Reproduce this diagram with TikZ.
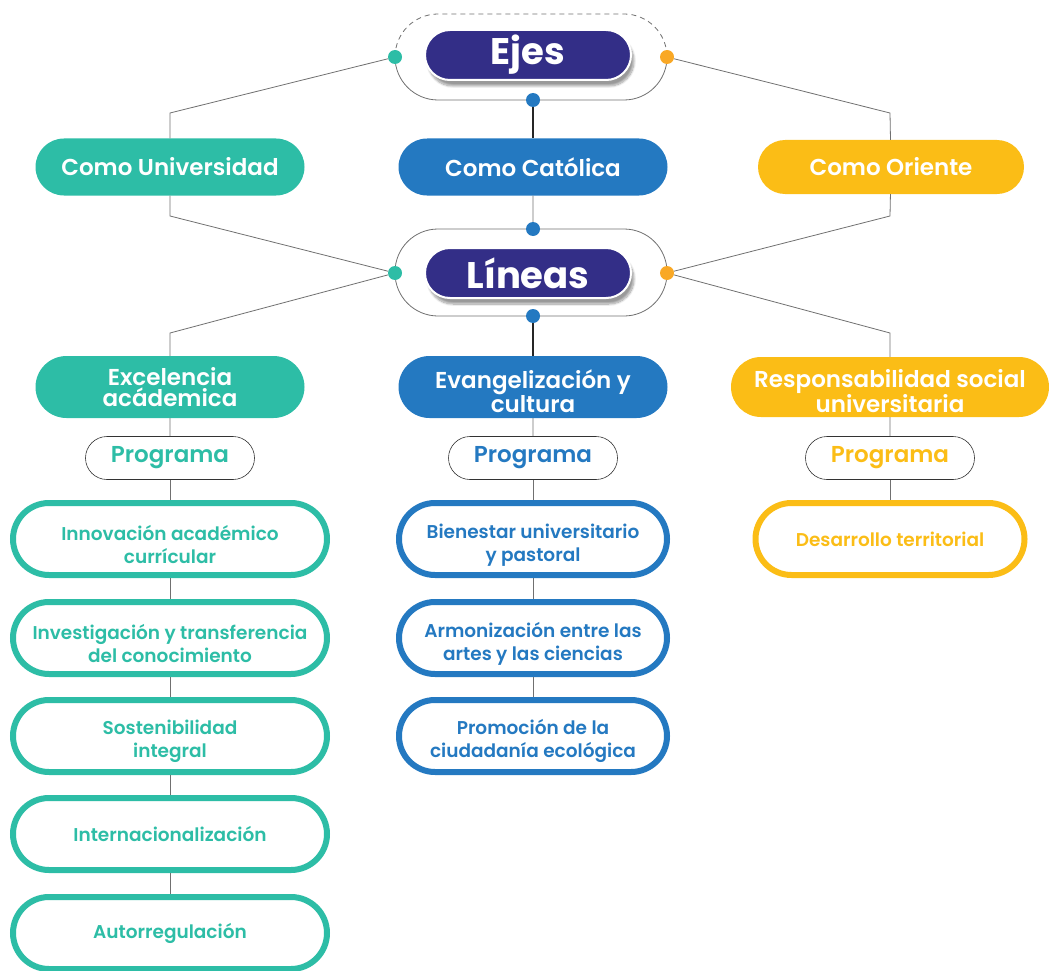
\documentclass[tikz,border=0pt]{standalone}
\usepackage{fontspec}
\setmainfont{Poppins}[BoldFont={Poppins SemiBold}]
\newfontfamily\heavyfont{Poppins Bold}
\usetikzlibrary{shapes.misc,shadows.blur}
\definecolor{cteal}{HTML}{2DBDA6}
\definecolor{cblue}{HTML}{2479C1}
\definecolor{cyell}{HTML}{FBBD16}
\definecolor{corng}{HTML}{F9A825}
\definecolor{cnavy}{HTML}{332E87}
\definecolor{cline}{HTML}{707070}
\newcommand{\dn}{\rule{0pt}{26pt}}
\newcommand{\dnl}{\rule{0pt}{27pt}}
\begin{document}
\begin{tikzpicture}[x=1pt,y=-1pt,
  title/.style={rounded rectangle, fill=cnavy, draw=white, line width=2pt, text=white,
    minimum width=206pt, minimum height=50pt, inner sep=0pt,
    font=\heavyfont\fontsize{37}{37}\selectfont,
    blur shadow={shadow xshift=3pt, shadow yshift=-6pt, shadow blur steps=10, shadow opacity=40}},
  pill/.style={rounded rectangle, fill=#1, text=white, align=center, inner sep=0pt,
    minimum width=269pt, minimum height=57pt, font=\bfseries\fontsize{23}{21}\selectfont},
  prog/.style={rounded rectangle, draw=black!80, line width=0.6pt, fill=white, text=#1,
    minimum width=169pt, minimum height=43pt, inner sep=0pt, font=\bfseries\fontsize{23}{23}\selectfont},
  pbox/.style={rounded rectangle, draw=#1, line width=6pt, fill=white, text=#1, align=center,
    minimum height=72pt, inner sep=0pt, font=\bfseries\fontsize{18.5}{23}\selectfont},
  jdot/.style={circle, fill=#1, minimum size=14pt, inner sep=0pt},
  conn/.style={draw=cline, line width=0.8pt}]
\useasboundingbox (0,0) rectangle (1049,971);
% containers
\draw[cline, line width=0.8pt, dash pattern=on 5pt off 4pt, rounded corners=43pt] (395,57) -- (395,14) -- (667,14) -- (667,57);
\draw[cline, line width=0.8pt, rounded corners=43pt] (395,57) -- (395,100) -- (667,100) -- (667,57);
\draw[cline, line width=0.8pt, rounded corners=43pt] (395,229) rectangle (667,316);
% titles
\node[title] (ejes) at (528,55){Ejes};
\node[title] (lineas) at (528,273){Líneas};
% ejes
\node[pill=cteal] (eje1) at (170,167){Como Universidad};
\node[pill=cblue] (eje2) at (533,167){Como Católica};
\node[pill=cyell, minimum width=266pt, minimum height=54pt] (eje3) at (891,167){Como Oriente};
% lineas
\node[pill=cteal, minimum height=62pt] (lin1) at (170,387){Excelencia\\acádemica};
\node[pill=cblue, minimum height=62pt] (lin2) at (533,387){\dnl Evangelización y\\cultura};
\node[pill=cyell, minimum width=318pt, minimum height=60pt] (lin3) at (890,387){\dnl Responsabilidad social\\universitaria};
% programa
\node[prog=cteal] (prg1) at (170,458){Programa};
\node[prog=cblue] (prg2) at (533,458){Programa};
\node[prog=cyell] (prg3) at (890,458){Programa};
\node[pbox=cteal, minimum width=314pt] (p11) at (170,539){\dn Innovación académico\\currícular};
\node[pbox=cteal, minimum width=314pt] (p12) at (170,638){\dn Investigación y transferencia\\del conocimiento};
\node[pbox=cteal, minimum width=314pt] (p13) at (170,736){\dn Sostenibilidad\\integral};
\node[pbox=cteal, minimum width=314pt] (p14) at (170,834){Internacionalización};
\node[pbox=cteal, minimum width=314pt] (p15) at (170,933){Autorregulación};
\node[pbox=cblue, minimum width=268pt] (p21) at (533,539){\dn Bienestar universitario\\y pastoral};
\node[pbox=cblue, minimum width=268pt] (p22) at (533,638){\dn Armonización entre las\\artes y las ciencias};
\node[pbox=cblue, minimum width=268pt] (p23) at (533,736){\dn Promoción de la\\ciudadanía ecológica};
\node[pbox=cyell, minimum width=269pt] (p31) at (890,539){Desarrollo territorial};
% dots
\node[jdot=cteal] (dej1) at (395,57){};
\node[jdot=cblue] (dej2) at (533,100){};
\node[jdot=corng] (dej3) at (667,57){};
\node[jdot=cteal] (dli1) at (395,273){};
\node[jdot=cblue] (dli0) at (533,229){};
\node[jdot=cblue] (dli2) at (533,316){};
\node[jdot=corng] (dli3) at (667,273){};
\coordinate (b11) at (170,113);
\coordinate (b12) at (170,216);
\coordinate (b13) at (170,333);
\coordinate (b31) at (890,113);
\coordinate (b32) at (890,216);
\coordinate (b33) at (890,333);
% connectors
\draw[conn](dej1) -- (b11) -- (eje1);
\draw[conn](eje1) -- (b12) -- (dli1);
\draw[conn](dli1) -- (b13) -- (lin1);
\draw[conn](dej3) -- (b31) -- (eje3);
\draw[conn](eje3) -- (b32) -- (dli3);
\draw[conn](dli3) -- (b33) -- (lin3);
\draw[conn, draw=black!85, line width=1.2pt](dej2) -- (eje2);
\draw[conn](eje2) -- (dli0);
\draw[conn, draw=black!85, line width=1.2pt](dli2) -- (lin2);
\draw[conn](lin1) -- (prg1);
\draw[conn](prg1) -- (p11);
\draw[conn](p11) -- (p12);
\draw[conn](p12) -- (p13);
\draw[conn](p13) -- (p14);
\draw[conn](p14) -- (p15);
\draw[conn](lin2) -- (prg2);
\draw[conn](prg2) -- (p21);
\draw[conn](p21) -- (p22);
\draw[conn](p22) -- (p23);
\draw[conn](lin3) -- (prg3);
\draw[conn](prg3) -- (p31);
\end{tikzpicture}
\end{document}
